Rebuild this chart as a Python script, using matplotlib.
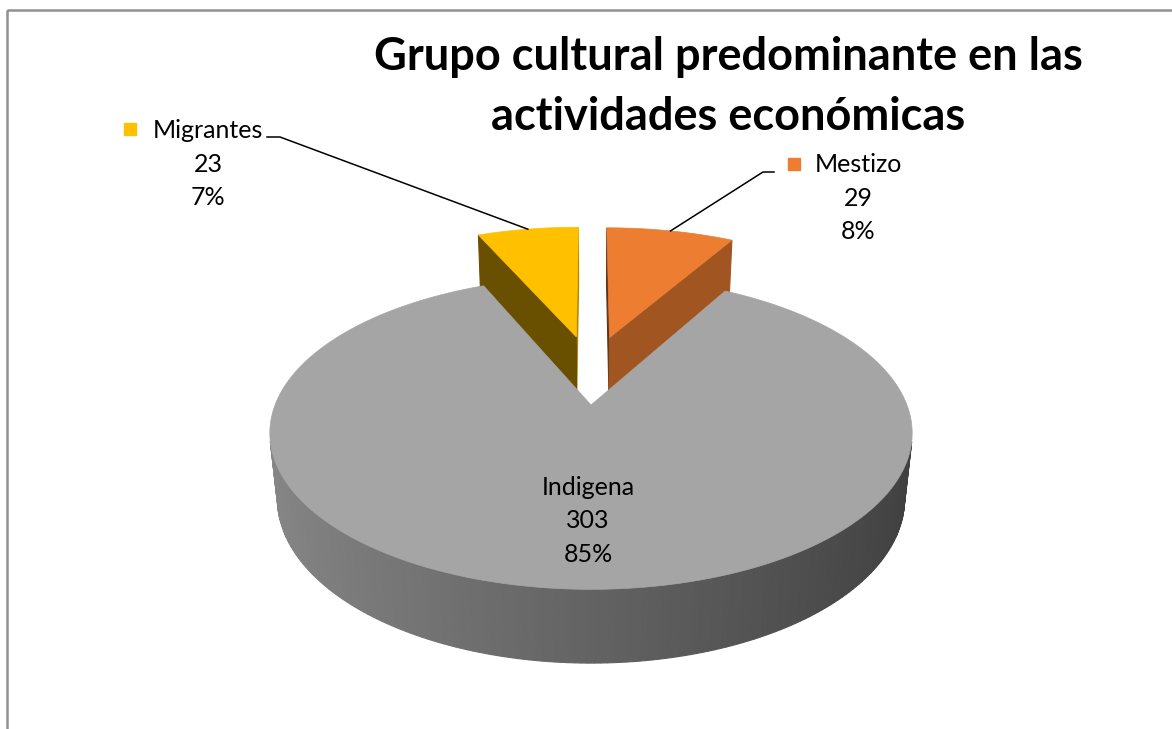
import numpy as np
import matplotlib.pyplot as plt
from matplotlib.patches import Polygon, Rectangle
from matplotlib.colors import to_rgb

plt.rcParams['font.family'] = ['Lato', 'DejaVu Sans']

# data (slices go clockwise from 12 o'clock, as in the original)
categories = ["Mestizo", "Indigena", "Migrantes"]
values = [29, 303, 23]
pct_labels = ["8%", "85%", "7%"]
colors = ["#ED7D31", "#A5A5A5", "#FFC000"]

title = "Grupo cultural predominante en las\nactividades económicas"

# view set-up, in pixels
W, H = 1172, 729
cx, cy = 591, 405
scale = 1545
elev = np.radians(28.6)
dist = 4.89
thick = 0.24
explode = [0.5, 0.0, 0.5]
sin_e, cos_e = np.sin(elev), np.cos(elev)
cam = np.array([0.0, -dist * cos_e, dist * sin_e])


def project(p):
    x, y, z = p
    yc = y * sin_e + z * cos_e
    zc = y * cos_e + dist - z * sin_e
    return cx + scale * x / zc, cy - scale * yc / zc


def shade(col, f):
    return tuple(np.clip(np.array(to_rgb(col)) * f, 0, 1))


def rim(a, z=0.0):
    return np.array([np.sin(a), np.cos(a), z])


fig = plt.figure(figsize=(W / 100, H / 100), dpi=100)
ax = fig.add_axes([0, 0, 1, 1])
ax.set_xlim(0, W)
ax.set_ylim(H, 0)
ax.axis('off')

total = float(sum(values))
bounds = np.concatenate([[0], np.cumsum(values)]) / total * 2 * np.pi

slices = []
for i, v in enumerate(values):
    t1, t2 = bounds[i], bounds[i + 1]
    mid = (t1 + t2) / 2
    off = explode[i] * np.array([0.5 * np.sin(mid), np.cos(mid), 0.0])
    n = max(int(np.degrees(t2 - t1)), 2)
    arc = np.linspace(t1, t2, n + 1)
    faces = []
    # outer wall, in thin strips so it can carry the gradient
    for a0, a1 in zip(arc[:-1], arc[1:]):
        am = (a0 + a1) / 2
        P = off + rim(am, -thick / 2)
        nrm = rim(am)
        if np.dot(nrm, cam - P) <= 0:
            continue
        quad = [off + rim(a0), off + rim(a1), off + rim(a1, -thick), off + rim(a0, -thick)]
        c = shade(colors[i], 0.6 - 0.22 * np.sin(am))
        faces.append((np.linalg.norm(cam - P), quad, c))
    # radial walls
    for t, nrm in [(t1, np.array([-np.cos(t1), np.sin(t1), 0])),
                   (t2, np.array([np.cos(t2), -np.sin(t2), 0]))]:
        quad = [off, off + rim(t), off + rim(t, -thick), off + np.array([0, 0, -thick])]
        P = np.mean(quad, axis=0)
        if np.dot(nrm, cam - P) <= 0:
            continue
        c = shade(colors[i], 0.55 + 0.15 * nrm[0])
        faces.append((np.linalg.norm(cam - P), quad, c))
    top = [off] + [off + rim(a) for a in arc]
    centre = off + rim(mid) * 0.5
    slices.append((np.linalg.norm(cam - centre), faces, top, i, off, mid))

# far slices first
for d, faces, top, i, off, mid in sorted(slices, key=lambda s: -s[0]):
    for fd, quad, c in sorted(faces, key=lambda f: -f[0]):
        ax.add_patch(Polygon([project(p) for p in quad], closed=True,
                             facecolor=c, edgecolor=c, lw=0.8))
    ax.add_patch(Polygon([project(p) for p in top], closed=True,
                         facecolor=colors[i], edgecolor=colors[i], lw=0.5))

# data labels
label_pos = {"Mestizo": (858, 198), "Indigena": (588, 521), "Migrantes": (208, 164)}
key_pos = {"Mestizo": (794, 164), "Indigena": (514, 487), "Migrantes": (130, 129)}
leader = {"Mestizo": [(774, 172), (763, 172)], "Migrantes": [(267, 137), (280, 137)]}

for d, faces, top, i, off, mid in slices:
    name = categories[i]
    x, y = label_pos[name]
    ax.text(x, y, f"{name}\n{values[i]}\n{pct_labels[i]}", ha='center', va='center',
            fontsize=18, linespacing=1.54, color='black')
    kx, ky = key_pos[name]
    ax.scatter([kx], [ky], marker='s', s=75, color=colors[i], zorder=5)
    if name in leader:
        pts = leader[name] + [project(off + rim(mid))]
        ax.plot([p[0] for p in pts], [p[1] for p in pts], color='black', lw=1.1)

ax.text(728, 87, title, ha='center', va='center', fontsize=32.5,
        fontweight='bold', linespacing=1.51)

ax.add_patch(Rectangle((7, 10), 1250, 800, fill=False, edgecolor='#919191', lw=1.8))

fig.savefig("out.png", dpi=100)
